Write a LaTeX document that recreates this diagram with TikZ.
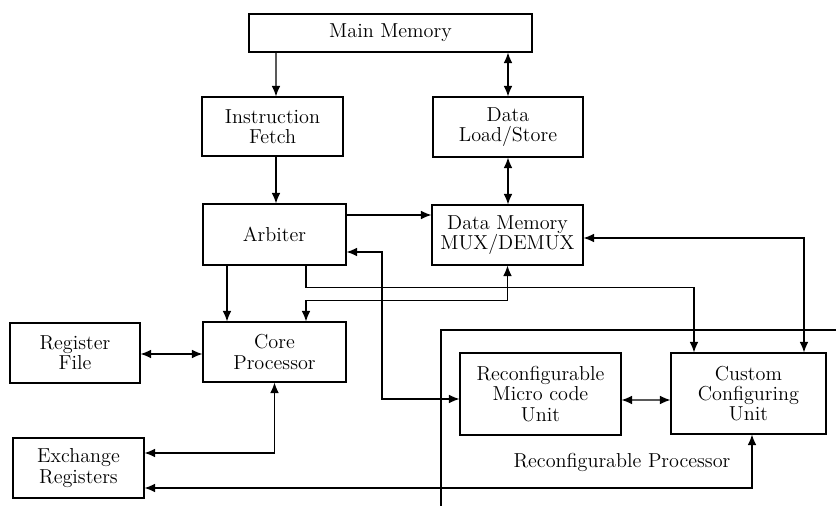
\documentclass[tikz,border=0pt]{standalone}
\usetikzlibrary{arrows.meta,calc}

\tikzset{
    blk/.style={draw, line width=0.7pt, align=center, inner sep=0pt, font=\fontsize{11.5}{11.6}\selectfont},
    >={Latex[length=6pt,width=5pt]},
}

\begin{document}
\begin{tikzpicture}[x=0.02cm, y=-0.02cm, line width=0.7pt]
        \useasboundingbox (0,0) rectangle (836,506);
        % memory side
        \node[blk, minimum width=5.66cm, minimum height=0.76cm] (mainmem) at (390.5,33) {Main Memory};
        \node[blk, minimum width=2.82cm, minimum height=1.18cm] (fetch) at (272.5,126.5) {Instruction\\Fetch};
        \node[blk, minimum width=3.0cm, minimum height=1.2cm] (loadstore) at (508,127) {Data\\Load/Store};
        \node[blk, minimum width=2.86cm, minimum height=1.22cm] (arbiter) at (274.5,234.5) {Arbiter};
        \node[blk, minimum width=3.02cm, minimum height=1.2cm] (datamem) at (507.5,235) {Data Memory\\MUX/DEMUX};
        %
        % core side
        \node[blk, minimum width=2.86cm, minimum height=1.2cm] (core) at (274.5,352) {Core\\Processor};
        \node[blk, minimum width=2.6cm, minimum height=1.2cm] (regfile) at (75,353) {Register\\File};
        \node[blk, minimum width=2.62cm, minimum height=1.2cm] (exchange) at (78.5,468) {Exchange\\Registers};
        %
        % reconfigurable processor
        \draw (836,330) -- (441,330) -- (441,506);
        \node[blk, minimum width=3.22cm, minimum height=1.64cm] (microcode) at (540.5,394) {Reconfigurable\\Micro code\\Unit};
        \node[blk, minimum width=3.1cm, minimum height=1.62cm] (custom) at (748.5,393.5) {Custom\\Configuring\\Unit};
        \node[font=\fontsize{11.5}{11.6}\selectfont] (rplabel) at (622,462) {Reconfigurable Processor};
        %
        \coordinate (bus) at (382,399);
        %
        \draw[->] ($(mainmem.south)+(-114.5,0)$) -- ($(fetch.north)+(3.5,0)$);
        \draw[<->] (loadstore.north |- mainmem.south) -- (loadstore.north);
        \draw[->] ($(fetch.south)+(3.5,0)$) -- ($(arbiter.north)+(1.5,0)$);
        \draw[<->] (loadstore.south) -- (loadstore.south |- datamem.north);
        \draw[->] ($(arbiter.east)+(0,-19.5)$) -- ($(datamem.west)+(0,-20)$);
        %
        \draw[<->] ($(datamem.east)+(0,3)$) -| ($(custom.north)+(55.5,0)$);
        \draw[->] ($(arbiter.south)+(31.5,0)$) -- ++(0,22) -| ($(custom.north)+(-54.5,0)$);
        \draw[<->] (datamem.south) -- ++(0,35) -| ($(core.north)+(31.5,0)$);
        \draw[->] ($(arbiter.south)+(-47.5,0)$) -- ($(core.north)+(-47.5,0)$);
        \draw[<->] ($(arbiter.east)+(0,17.5)$) -| (bus) -- ($(microcode.west)+(0,5)$);
        %
        \draw[<->] ($(regfile.east)+(0,1)$) -- ($(core.west)+(0,2)$);
        \draw[<->] (core.south) |- ($(exchange.east)+(0,-15)$);
        \draw[<->] ($(exchange.east)+(0,20)$) -| ($(custom.south)+(3.5,0)$);
        \draw[<->] ($(microcode.east)+(0,6)$) -- ($(custom.west)+(0,6.5)$);
\end{tikzpicture}
\end{document}
